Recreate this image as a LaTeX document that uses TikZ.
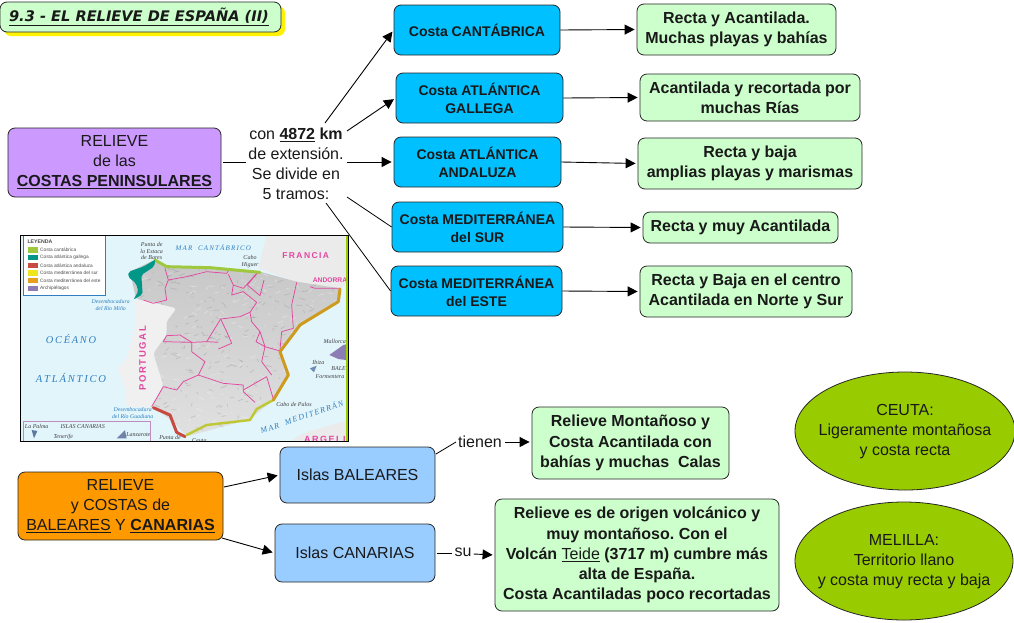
\documentclass[tikz,border=0pt]{standalone}
\usepackage{fontspec}
\setmainfont{Liberation Sans}
\newfontfamily\titlefont{DejaVu Sans}
\newfontfamily\mapserif{Liberation Serif}
\usetikzlibrary{arrows.meta,shapes.geometric}
\definecolor{cgreen}{HTML}{CCFFCC}
\definecolor{cblue}{HTML}{00C0FF}
\definecolor{clight}{HTML}{99CCFF}
\definecolor{cpurple}{HTML}{CC99FF}
\definecolor{corange}{HTML}{FF9900}
\definecolor{colive}{HTML}{99CC00}
\definecolor{csea}{HTML}{E2F5FB}
\definecolor{cpink}{HTML}{E2479F}
\definecolor{cseal}{HTML}{2F7FC0}
\newcommand{\ovaltext}[1]{\smash{\raisebox{-5pt}{\makebox[100pt][c]{\begin{tabular}{@{}c@{}}#1\end{tabular}}}}}
\frenchspacing
\tikzset{
  boxbase/.style={draw=black!85,line width=0.8pt,rounded corners=7pt,inner sep=0pt,align=center,text=black!90},
  greenbox/.style={boxbase,fill=cgreen,font=\fontsize{16}{20.2}\selectfont\bfseries},
  bluebox/.style={boxbase,fill=cblue,font=\fontsize{14}{18}\selectfont\bfseries},
  lightbox/.style={boxbase,fill=clight,font=\fontsize{16}{20}\selectfont},
  mainbox/.style={boxbase,font=\fontsize{16}{20}\selectfont},
  oval/.style={draw=black!85,line width=0.8pt,ellipse,fill=colive,inner sep=0pt,font=\fontsize{16}{20}\selectfont,text=black!90},
  plainlabel/.style={inner sep=0pt,align=center,font=\fontsize{16}{20}\selectfont,text=black!90},
  arr/.style={line width=0.9pt,-{Triangle[length=10pt,width=10pt]},shorten >=2pt},
  seg/.style={line width=0.8pt},
  legendtxt/.style={inner sep=0pt,anchor=west,font=\fontsize{4.8}{5}\selectfont,text=black!70},
  mapit/.style={inner sep=0pt,font=\fontsize{5.8}{6.4}\selectfont\mapserif\itshape,text=cseal,align=center},
  mapblk/.style={inner sep=0pt,font=\fontsize{6}{6.4}\selectfont\mapserif\itshape,text=black!75,align=center},
  mappink/.style={inner sep=0pt,font=\fontsize{8.5}{9}\selectfont\bfseries,text=cpink},
  spainshape/.style={rounded corners=3pt},
}
\def\spainpath{(360,140) -- (432,105) -- (470,125) -- (600,125) -- (750,140) -- (860,170) -- (990,190) -- (985,230) -- (870,300) -- (810,380) -- (835,450) -- (790,525) -- (720,582) -- (530,635) -- (490,590) -- (425,545) -- (460,480) -- (430,385) -- (470,330) -- (470,290) -- (500,250) -- (420,230) -- (378,222) -- cycle}
\begin{document}
\begin{tikzpicture}[x=1pt,y=-1pt]
\useasboundingbox (0,0) rectangle (1014,622);
\fill[white] (0,0) rectangle (1014,622);
% title
\fill[yellow,rounded corners=7pt] (4,6) rectangle (285,36);
\node[boxbase,fill=cgreen,minimum width=281,minimum height=30] (title) at (140.5,17)
  {\hspace*{-3pt}\titlefont\fontsize{14.6}{16}\selectfont\bfseries\itshape\underline{9.3 - EL RELIEVE DE ESPAÑA (II)}};
% map
\begin{scope}[shift={(10pt,-225pt)},x=0.33333pt,y=-0.33333pt]
 \begin{scope}
 \clip (30,30) rectangle (1015,650);
 \fill[csea] (30,30) rectangle (1015,650);
 % France
 \fill[black!8] (745,130) -- (770,30) -- (1015,30) -- (1015,175) -- (990,190) -- (860,170) -- cycle;
 % Algeria
 \fill[black!8] (840,650) -- (880,625) -- (1015,585) -- (1015,650) -- cycle;
 % Portugal
 \fill[black!6,spainshape] (372,222) -- (420,230) -- (500,250) -- (470,290) -- (470,330) -- (430,385) -- (460,480) -- (425,545) -- (350,548) -- (345,490) -- (322,430) -- (350,400) -- (378,290) -- cycle;
 % Spain
 \path[spainshape,left color=black!22,right color=black!12,shading angle=0] \spainpath;
 \begin{scope}
  \clip[spainshape] \spainpath;
  \pgfmathsetseed{7}
  \foreach \i in {1,...,500}{
    \pgfmathsetmacro\xa{350+rnd*650}\pgfmathsetmacro\ya{100+rnd*540}
    \pgfmathsetmacro\dx{-18+rnd*36}\pgfmathsetmacro\dy{-9+rnd*18}
    \pgfmathsetmacro\sh{rnd>0.55?0:45}
    \draw[black!\sh,line width=0.8pt,opacity=0.3,line cap=round] (\xa,\ya) -- ++(\dx,\dy);
  }
 \end{scope}
 % region borders
 \begin{scope}[cpink,line width=0.75pt,line join=round]
  \draw (400,225) -- (430,235) -- (470,225) -- (465,190) -- (475,165) -- (465,130);
  \draw (475,165) -- (530,155) -- (590,140) -- (650,145) -- (660,130);
  \draw (655,148) -- (670,180) -- (700,190) -- (745,140);
  \draw (670,180) -- (665,210) -- (700,200) -- (740,232) -- (720,262);
  \draw (745,140) -- (712,180) -- (750,212) -- (762,165);
  \draw (860,172) -- (845,240) -- (850,310) -- (815,320) -- (810,375);
  \draw (900,185) -- (915,190) -- (990,190);
  \draw (720,262) -- (725,290) -- (750,320) -- (738,350) -- (765,365) -- (810,378);
  \draw (470,332) -- (510,330) -- (545,352) -- (590,350) -- (632,282) -- (690,275) -- (720,262);
  \draw (632,282) -- (650,320) -- (665,355) -- (625,372);
  \draw (590,350) -- (625,352);
  \draw (460,350) -- (545,352) -- (545,380) -- (585,410) -- (565,450) -- (520,470) -- (500,495) -- (460,485);
  \draw (565,450) -- (640,475) -- (700,480) -- (700,500) -- (735,532);
  \draw (700,495) -- (770,455) -- (790,522);
  \draw (765,365) -- (755,410) -- (785,450);
  \draw (750,320) -- (765,365);
  \draw (460,350) -- (470,332);
  \draw (425,545) -- (460,485);
 \end{scope}
 % coasts
 \begin{scope}[line width=3pt,line cap=round,line join=round]
  \draw[color={rgb,255:red,160;green,200;blue,60}] (435,105) -- (470,125) -- (600,128) -- (750,142);
  \fill[color={rgb,255:red,0;green,150;blue,136},rounded corners=2pt] (437,103) -- (400,125) -- (356,140) -- (354,155) -- (378,175) -- (385,200) -- (370,224) -- (398,208) -- (394,150) -- (432,125) -- cycle;
  \draw[color={rgb,255:red,200;green,75;blue,65}] (430,548) -- (480,570) -- (500,622) -- (525,635);
  \draw[color={rgb,255:red,190;green,200;blue,50},line width=2.4pt] (530,630) -- (590,600) -- (720,585) -- (740,552) -- (790,525);
  \draw[color={rgb,255:red,205;green,155;blue,30}] (790,525) -- (835,450) -- (810,380) -- (870,300) -- (985,230) -- (990,192);
 \end{scope}
 % Balearics
 \fill[color={rgb,255:red,140;green,125;blue,180}] (958,390) -- (1000,360) -- (1008,358) -- (1008,405) -- (985,402) -- cycle;
 \fill[color={rgb,255:red,110;green,140;blue,180}] (900,430) -- (920,422) -- (912,442) -- cycle;
 % Canary box
 \draw[color={rgb,255:red,190;green,140;blue,190},line width=0.5pt] (40,650) -- (40,590) -- (422,590) -- (422,650);
 \fill[color={rgb,255:red,110;green,130;blue,170}] (320,640) -- (345,615) -- (350,640) -- cycle;
 \fill[color={rgb,255:red,90;green,120;blue,160}] (65,615) -- (82,618) -- (72,640) -- cycle;
 % sea and land names
 \node[mapit,font=\fontsize{7}{8}\selectfont\mapserif\itshape] (nMar) at (610,68) {M\,A\,R\;\; C\,A\,N\,T\,Á\,B\,R\,I\,C\,O};
 \node[mapit,font=\fontsize{10.4}{11}\selectfont\mapserif\itshape] (nOce) at (183,341) {O\,C\,É\,A\,N\,O};
 \node[mapit,font=\fontsize{10.6}{11}\selectfont\mapserif\itshape] (nAtl) at (183,458) {A\,T\,L\,Á\,N\,T\,I\,C\,O};
 \node[mappink] (nFra) at (887,93) {F\,R\,A\,N\,C\,I\,A};
 \node[mappink,font=\fontsize{6.7}{7}\selectfont\bfseries] (nAnd) at (960,165) {ANDORRA};
 \node[mappink,rotate=90,font=\fontsize{9.5}{10}\selectfont\bfseries] (nPor) at (398,400) {P\,O\,R\,T\,U\,G\,A\,L};
 \node[mappink,font=\fontsize{9}{9}\selectfont\bfseries] (nArg) at (945,643) {A\,R\,G\,E\,L\,I};
 \node[mapit,rotate=19,font=\fontsize{8}{8}\selectfont\mapserif\itshape] (nMed) at (875,574) {M\,A\,R\;\; M\,E\,D\,I\,T\,E\,R\,R\,Á\,N};
 \node[mapit] (nMino) at (302,240) {Desembocadura\\del Río Miño};
 \node[mapit] (nGua) at (368,564) {Desembocadura\\del Río Guadiana};
 \node[mapblk] (nBar) at (425,78) {Punta de\\la Estaca\\de Bares};
 \node[mapblk] (nHig) at (720,110) {Cabo\\Higuer};
 \node[mapblk] (nPal) at (852,539) {Cabo de Palos};
 \node[mapblk] (nTar) at (480,637) {Punta de};
 \node[mapblk] (nCeu) at (568,648) {Ceuta};
 \node[mapblk,anchor=east] (nMal) at (1008,348) {Mallorca};
 \node[mapblk] (nIbi) at (925,411) {Ibiza};
 \node[mapblk] (nFor) at (960,455) {Formentera};
 \node[mapblk,anchor=east] (nBal) at (1008,431) {BALE};
 \node[mapblk] (nLaP) at (80,604) {La Palma};
 \node[mapblk] (nIsl) at (218,604) {ISLAS CANARIAS};
 \node[mapblk] (nTen) at (160,635) {Tenerife};
 \node[mapblk] (nLan) at (385,630) {Lanzarote};
 % legend
 \fill[white] (40,30) rectangle (287,212);
 \draw[cseal,line width=0.4pt] (40,30) -- (40,212) -- (287,212) -- (287,30);
 \node[legendtxt,font=\fontsize{5.2}{5}\selectfont\bfseries] (lT) at (52,50) {LEYENDA};
 \foreach \yy/\cc/\tt [count=\n] in {
   75/{rgb,255:red,160;green,200;blue,60}/Costa cantábrica,
   98/{rgb,255:red,0;green,150;blue,136}/Costa atlántica gallega,
   121/{rgb,255:red,200;green,75;blue,65}/Costa atlántica andaluza,
   144/{rgb,255:red,240;green,230;blue,30}/Costa mediterránea del sur,
   167/{rgb,255:red,230;green,160;blue,30}/Costa mediterránea del este,
   190/{rgb,255:red,140;green,125;blue,180}/Archipiélagos}{
   \fill[color=\cc] (55,\yy-8) rectangle (85,\yy+8);
   \node[legendtxt] (l\n) at (90,\yy) {\tt};
 }
 \fill[colive] (1008,30) rectangle (1015,650);
 \fill[colive] (30,30) rectangle (33,650);
 \end{scope}
\end{scope}
\node[draw=black,line width=1.1pt,inner sep=0pt,minimum width=328.3,minimum height=206.7] (map) at (184.2,338.4) {};
% left boxes
\node[mainbox,fill=cpurple,minimum width=213,minimum height=69] (peni) at (114.5,162.5)
  {RELIEVE\\de las\\\textbf{\underline{COSTAS PENINSULARES}}};
\node[plainlabel,minimum width=100,minimum height=84] (con) at (296,164)
  {con \textbf{\underline{4872}} \textbf{km}\\de extensión.\\Se divide en\\5 tramos:};
% blue
\node[bluebox,minimum width=166,minimum height=50] (b1) at (477,30) {Costa CANTÁBRICA};
\node[bluebox,minimum width=167,minimum height=50] (b2) at (479.5,98) {Costa ATLÁNTICA\\GALLEGA};
\node[bluebox,minimum width=167,minimum height=50] (b3) at (477.5,162) {Costa ATLÁNTICA\\ANDALUZA};
\node[bluebox,minimum width=171,minimum height=50] (b4) at (477.5,227) {Costa MEDITERRÁNEA\\del SUR};
\node[bluebox,minimum width=171,minimum height=50] (b5) at (476.5,291) {Costa MEDITERRÁNEA\\del ESTE};
% green right
\node[greenbox,minimum width=199,minimum height=51] (g1) at (736.5,29.5) {Recta y Acantilada.\\Muchas playas y bahías};
\node[greenbox,minimum width=220,minimum height=47] (g2) at (750,97.5) {Acantilada y recortada por\\muchas Rías};
\node[greenbox,minimum width=224,minimum height=51] (g3) at (750,163.5) {Recta y baja\\amplias playas y marismas};
\node[greenbox,minimum width=195,minimum height=31] (g4) at (740.5,227.5) {Recta y muy Acantilada};
\node[greenbox,minimum width=212,minimum height=51] (g5) at (746,291.5) {Recta y Baja en el centro\\Acantilada en Norte y Sur};
% lower
\node[mainbox,fill=corange,minimum width=205,minimum height=68] (rel2) at (120.5,506)
  {RELIEVE\\y COSTAS de\\\underline{BALEARES} Y \textbf{\underline{CANARIAS}}};
\node[lightbox,minimum width=155,minimum height=56] (isb) at (357.5,475) {Islas BALEARES};
\node[lightbox,minimum width=160,minimum height=58] (isc) at (355,553) {Islas CANARIAS};
\node[plainlabel] (ten) at (480,442) {tienen};
\node[plainlabel] (su) at (463,552) {su};
\node[greenbox,minimum width=197,minimum height=72] (g6) at (630.5,443) {Relieve Montañoso y\\Costa Acantilada con\\bahías y muchas\ \ Calas};
\node[greenbox,minimum width=284,minimum height=112] (g7) at (637,555) {Relieve es de origen volcánico y\\muy montañoso. Con el\\Volcán \mdseries\underline{Teide}\bfseries\ (3717 m) cumbre más\\alta de España.\\Costa Acantiladas poco recortadas};
\node[oval,minimum width=220,minimum height=118] (ceu) at (905,431) {\ovaltext{CEUTA:\\Ligeramente montañosa\\y costa recta}};
\node[oval,minimum width=218,minimum height=118] (mel) at (904,561) {\ovaltext{MELILLA:\\Territorio llano\\y costa muy recta y baja}};
% connectors
\draw[seg] (peni.east) ++(2,0) -- (con.west |- peni.east);
\coordinate (s1) at (325,123);
\coordinate (s2) at (347,131);
\coordinate (s3) at (347,162);
\coordinate (s4) at (347,197);
\coordinate (s5) at (326,203);
\draw[arr] (s1) -- (b1.west);
\draw[arr] (s2) -- (b2.west);
\draw[arr] (s3) -- (b3.west);
\draw[seg] (s4) -- (b4.west);
\draw[seg] (s5) -- (b5.west);
\draw[arr] (b1.east) -- (g1.west);
\draw[arr] (b2.east) -- (g2.west);
\draw[arr] (b3.east) -- (g3.west);
\draw[arr] (b4.east) -- (g4.west);
\draw[arr] (b5.east) -- (g5.west);
\coordinate (o1) at (224,487);
\coordinate (o2) at (222,538);
\draw[arr] (o1) -- (isb.west);
\draw[arr] (o2) -- (isc.west);
\coordinate (t1) at (436,454);
\draw[seg] (t1) -- ([xshift=-2pt]ten.west);
\draw[arr] (ten.east) ++(3,0) -- (g6.west |- ten.east);
\draw[seg] (isc.east) ++(2,0) -- ([xshift=-2pt]su.west |- isc.east);
\draw[arr] (su.east) ++(2,2) -- (g7.west);
\end{tikzpicture}
\end{document}
